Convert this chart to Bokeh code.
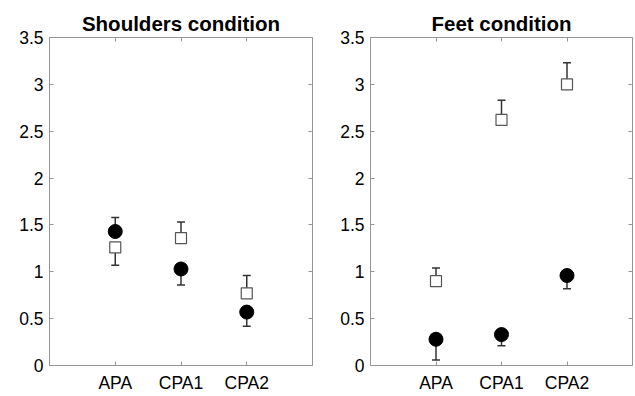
from bokeh.plotting import figure
from bokeh.models import (FactorRange, Range1d, FixedTicker, CustomJSTickFormatter,
                          LinearAxis, CategoricalAxis, Whisker, TeeHead, ColumnDataSource)
from bokeh.layouts import row
from bokeh.embed import file_html
from bokeh.resources import INLINE

cats = ["APA", "CPA1", "CPA2"]
y_ticks = [0, 0.5, 1, 1.5, 2, 2.5, 3, 3.5]

# Shoulders condition
sh_circle = [1.43, 1.03, 0.57]
sh_circle_err = [1.58, 0.86, 0.42]
sh_square = [1.26, 1.36, 0.77]
sh_square_err = [1.07, 1.53, 0.96]

# Feet condition
ft_circle = [0.28, 0.33, 0.96]
ft_circle_err = [0.06, 0.21, 0.82]
ft_square = [0.90, 2.62, 3.00]
ft_square_err = [1.04, 2.83, 3.23]

FONT = "Liberation Sans"
AXIS_COLOR = "#959595"
ERR_COLOR = "#333333"


def style_axis(ax, labels=True):
    ax.axis_line_color = AXIS_COLOR
    ax.major_tick_line_color = AXIS_COLOR
    ax.major_tick_in = 4
    ax.major_tick_out = 0
    ax.minor_tick_line_color = None
    ax.major_label_text_font = FONT
    ax.major_label_text_color = "black"
    ax.major_label_text_font_size = "17.5px"
    if not labels:
        ax.formatter = CustomJSTickFormatter(code="return '';")
        ax.major_label_standoff = 0


def make(title, circ, circ_err, sq, sq_err, left_border, right_border, fw):
    p = figure(x_range=FactorRange(factors=cats, range_padding=0.5, range_padding_units="absolute"),
               y_range=Range1d(0, 3.5), frame_width=fw, frame_height=328,
               min_border_left=left_border, min_border_right=right_border,
               min_border_top=37, min_border_bottom=20,
               output_backend="svg", toolbar_location=None, title=title)
    p.title.align = "center"
    p.title.text_font = FONT
    p.title.text_font_style = "bold"
    p.title.text_font_size = "20.5px"
    p.title.text_color = "black"
    p.title.standoff = 6
    p.grid.visible = False
    p.outline_line_color = None
    p.background_fill_color = "white"
    p.border_fill_color = "white"

    p.yaxis.ticker = FixedTicker(ticks=y_ticks)
    style_axis(p.yaxis[0])
    p.yaxis.formatter = CustomJSTickFormatter(code="return String(tick);")
    p.yaxis.major_label_standoff = 6
    style_axis(p.xaxis[0])
    p.xaxis.major_label_standoff = 7

    top = CategoricalAxis()
    style_axis(top, labels=False)
    p.add_layout(top, "above")
    right = LinearAxis(ticker=FixedTicker(ticks=y_ticks))
    style_axis(right, labels=False)
    p.add_layout(right, "right")

    src_c = ColumnDataSource(dict(x=cats, y=circ,
                                  lo=[min(a, b) for a, b in zip(circ, circ_err)],
                                  hi=[max(a, b) for a, b in zip(circ, circ_err)]))
    src_s = ColumnDataSource(dict(x=cats, y=sq,
                                  lo=[min(a, b) for a, b in zip(sq, sq_err)],
                                  hi=[max(a, b) for a, b in zip(sq, sq_err)]))
    for src in (src_c, src_s):
        w = Whisker(source=src, base="x", lower="lo", upper="hi",
                    line_color=ERR_COLOR, line_width=1.5,
                    lower_head=TeeHead(size=8, line_color=ERR_COLOR, line_width=1.5),
                    upper_head=TeeHead(size=8, line_color=ERR_COLOR, line_width=1.5))
        p.add_layout(w)

    p.scatter("x", "y", source=src_s, marker="square", size=11,
              fill_color="white", line_color="#555555", line_width=1.2, level="overlay")
    p.scatter("x", "y", source=src_c, marker="circle", size=14,
              fill_color="black", line_color="black", level="overlay")
    return p


p1 = make("Shoulders condition", sh_circle, sh_circle_err, sh_square, sh_square_err, 49, 5, 263)
p2 = make("Feet condition", ft_circle, ft_circle_err, ft_square, ft_square_err, 53, 1, 262)
layout = row(p1, p2)

open("out.html", "w").write(file_html(layout, INLINE))
